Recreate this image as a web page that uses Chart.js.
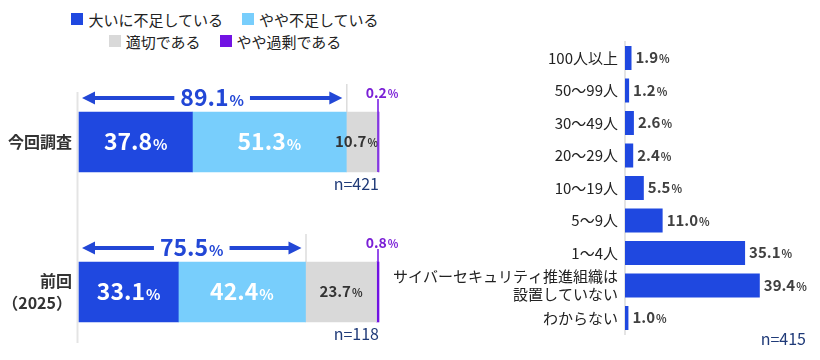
<!DOCTYPE html>
<html><head><meta charset="utf-8">
<script src="https://cdn.jsdelivr.net/npm/chart.js@4/dist/chart.umd.min.js"></script>
<style>
html,body{margin:0;padding:0;background:#fff;}
body{width:820px;height:360px;overflow:hidden;position:relative;font-family:'Noto Sans CJK JP','Noto Sans',sans-serif;}
#legend{position:absolute;left:0;top:8px;width:450px;}
#legend .row{display:flex;justify-content:center;align-items:center;height:22px;}
#legend .item{display:flex;align-items:center;margin:0 9.5px;font-size:15px;color:#222;white-space:nowrap;}
#legend .sq{width:12px;height:12px;margin-right:5px;display:inline-block;}
#w1{position:absolute;left:0;top:0;width:400px;height:360px;}
#w2{position:absolute;left:370px;top:0;width:450px;height:360px;}
</style></head>
<body>
<div id="legend"></div>
<div id="w1"><canvas id="c1"></canvas></div>
<div id="w2"><canvas id="c2"></canvas></div>
<script>
// ---------- data ----------
const seriesNames = ['大いに不足している','やや不足している','適切である','やや過剰である'];
const leftCategories = ['今回調査', ['前回','（2025）']];
const veryShort = [37.8, 33.1];
const someShort = [51.3, 42.4];
const adequate  = [10.7, 23.7];
const excess    = [0.2, 0.8];
const shortTotal = [89.1, 75.5];
const leftN = ['n=421', 'n=118'];

const rightCategories = ['100人以上','50～99人','30～49人','20～29人','10～19人','5～9人','1～4人',['サイバーセキュリティ推進組織は','設置していない'],'わからない'];
const rightValues = [1.9, 1.2, 2.6, 2.4, 5.5, 11.0, 35.1, 39.4, 1.0];
const rightN = 'n=415';

// ---------- styles ----------
const FAM = "'Noto Sans CJK JP','Noto Sans',sans-serif";
const colors = ['#1f48e0', '#78cefc', '#d9d9d9', '#7213e3'];
const arrowBlue = '#2247d6';
const purpleText = '#7a1fd6';
const navy = '#1f3a78';

// legend
(function(){
  const lg = document.getElementById('legend');
  const rows = [[0,1],[2,3]];
  rows.forEach(r=>{
    const row = document.createElement('div'); row.className='row';
    r.forEach(i=>{
      const it = document.createElement('div'); it.className='item';
      const sq = document.createElement('span'); sq.className='sq'; sq.style.background = colors[i];
      it.appendChild(sq); it.appendChild(document.createTextNode(seriesNames[i]));
      row.appendChild(it);
    });
    lg.appendChild(row);
  });
})();

function drawPct(ctx, num, x, y, nSize, pSize, color, align){
  ctx.save();
  ctx.fillStyle = color;
  ctx.textBaseline = 'alphabetic';
  ctx.textAlign = 'left';
  const nf = 'bold ' + nSize + 'px ' + FAM, pf = 'bold ' + pSize + 'px ' + FAM;
  ctx.font = nf; const w1 = ctx.measureText(num).width;
  ctx.font = pf; const w2 = ctx.measureText('%').width + 1;
  const tot = w1 + w2;
  const sx = align === 'left' ? x : align === 'right' ? x - tot : x - tot/2;
  const base = y + nSize * 0.36;
  ctx.font = nf; ctx.fillText(num, sx, base);
  ctx.font = pf; ctx.fillText('%', sx + w1 + 1, base);
  ctx.restore();
  return tot;
}
function pctWidth(ctx, num, nSize, pSize){
  ctx.save();
  ctx.font = 'bold ' + nSize + 'px ' + FAM; const w1 = ctx.measureText(num).width;
  ctx.font = 'bold ' + pSize + 'px ' + FAM; const w2 = ctx.measureText('%').width + 1;
  ctx.restore();
  return w1 + w2;
}

// ---------- left chart ----------
const leftDecor = {
  id: 'leftDecor',
  beforeDatasetsDraw(chart){
    const {ctx, scales:{x, y}} = chart;
    const x0 = x.getPixelForValue(0);
    const yFirst = y.getPixelForValue(0), yLast = y.getPixelForValue(leftCategories.length - 1);
    ctx.save();
    ctx.strokeStyle = '#e4e4e4'; ctx.lineWidth = 2;
    ctx.beginPath(); ctx.moveTo(x0 - 1.5, yFirst - 50); ctx.lineTo(x0 - 1.5, yLast + 51); ctx.stroke();
    leftCategories.forEach((c, i) => {
      const el = chart.getDatasetMeta(0).data[i];
      const top = el.y - el.height/2;
      const xs = x.getPixelForValue(shortTotal[i]);
      ctx.strokeStyle = '#dcdcdc'; ctx.lineWidth = 1.5;
      ctx.beginPath(); ctx.moveTo(xs + 0.5, top - 28); ctx.lineTo(xs + 0.5, top); ctx.stroke();
    });
    ctx.restore();
  },
  afterDatasetsDraw(chart){
    const {ctx, scales:{x, y}} = chart;
    const x0 = x.getPixelForValue(0), x100 = x.getPixelForValue(100);
    ctx.save();
    // inner labels
    const styles = [
      {c:'#ffffff', n:23, p:15},
      {c:'#ffffff', n:23, p:15},
      {c:'#333333', n:15, p:11}
    ];
    for (let d = 0; d < 3; d++){
      const meta = chart.getDatasetMeta(d);
      meta.data.forEach((el, i) => {
        const v = chart.data.datasets[d].data[i];
        const s = styles[d];
        const cx = (el.x + el.base)/2;
        const w = pctWidth(ctx, v.toFixed(1), s.n, s.p);
        if (cx + w/2 > x100) drawPct(ctx, v.toFixed(1), x100 - 1, el.y, s.n, s.p, s.c, 'right');
        else drawPct(ctx, v.toFixed(1), cx, el.y, s.n, s.p, s.c, 'center');
      });
    }
    leftCategories.forEach((c, i) => {
      const el = chart.getDatasetMeta(0).data[i];
      const top = el.y - el.height/2, bot = el.y + el.height/2;
      const xs = x.getPixelForValue(shortTotal[i]);
      // arrow
      const ay = top - 14, ax1 = x0 + 3, ax2 = xs - 4;
      const label = shortTotal[i].toFixed(1);
      const tw = pctWidth(ctx, label, 23, 15);
      const mid = (ax1 + ax2)/2;
      ctx.strokeStyle = arrowBlue; ctx.fillStyle = arrowBlue; ctx.lineWidth = 4;
      ctx.beginPath();
      ctx.moveTo(ax1 + 10, ay); ctx.lineTo(mid - tw/2 - 6, ay);
      ctx.moveTo(mid + tw/2 + 6, ay); ctx.lineTo(ax2 - 10, ay);
      ctx.stroke();
      ctx.beginPath(); ctx.moveTo(ax1, ay); ctx.lineTo(ax1 + 13, ay - 6.5); ctx.lineTo(ax1 + 13, ay + 6.5); ctx.closePath(); ctx.fill();
      ctx.beginPath(); ctx.moveTo(ax2, ay); ctx.lineTo(ax2 - 13, ay - 6.5); ctx.lineTo(ax2 - 13, ay + 6.5); ctx.closePath(); ctx.fill();
      drawPct(ctx, label, mid, ay, 23, 15, arrowBlue, 'center');
      // purple marker
      const px = x100 - 1;
      ctx.strokeStyle = colors[3]; ctx.lineWidth = 1.5;
      ctx.beginPath(); ctx.moveTo(px, top - 13); ctx.lineTo(px, bot); ctx.stroke();
      drawPct(ctx, excess[i].toFixed(1), x100 + 3, top - 19, 14, 11, purpleText, 'center');
      // n
      ctx.fillStyle = navy; ctx.font = '16px ' + FAM; ctx.textAlign = 'right'; ctx.textBaseline = 'middle';
      ctx.fillText(leftN[i], x100, bot + 12);
    });
    ctx.restore();
  }
};

new Chart(document.getElementById('c1'), {
  type: 'bar',
  data: {
    labels: leftCategories,
    datasets: [veryShort, someShort, adequate, excess].map((arr, i) => ({
      label: seriesNames[i], data: arr, backgroundColor: colors[i],
      borderWidth: 0, barThickness: 60, clip: false
    }))
  },
  options: {
    responsive: true, maintainAspectRatio: false, animation: false,
    indexAxis: 'y',
    layout: {padding: {left: 0, right: 21, top: 142, bottom: 68}},
    plugins: {legend: {display: false}, tooltip: {enabled: false}},
    scales: {
      x: {stacked: true, min: 0, max: 100, display: false},
      y: {
        stacked: true, offset: false,
        grid: {display: false, drawTicks: false}, border: {display: false},
        ticks: {font: {family: FAM, size: 16, weight: 'bold', lineHeight: 1.375}, color: '#333', padding: 7, autoSkip: false},
        afterFit(s){ s.width = 79; }
      }
    }
  },
  plugins: [leftDecor]
});

// ---------- right chart ----------
const rightDecor = {
  id: 'rightDecor',
  afterDatasetsDraw(chart){
    const {ctx} = chart;
    ctx.save();
    chart.getDatasetMeta(0).data.forEach((el, i) => {
      drawPct(ctx, rightValues[i].toFixed(1), el.x + 4, el.y, 15, 11, '#404040', 'left');
    });
    ctx.fillStyle = navy; ctx.font = '16px ' + FAM; ctx.textAlign = 'right'; ctx.textBaseline = 'middle';
    ctx.fillText(rightN, 436, 339);
    ctx.restore();
  }
};

new Chart(document.getElementById('c2'), {
  type: 'bar',
  data: {
    labels: rightCategories,
    datasets: [{data: rightValues, backgroundColor: colors[0], borderWidth: 0, barPercentage: 0.74, categoryPercentage: 1.0}]
  },
  options: {
    responsive: true, maintainAspectRatio: false, animation: false,
    indexAxis: 'y',
    layout: {padding: {left: 0, right: 0, top: 41.75, bottom: 25.75}},
    plugins: {legend: {display: false}, tooltip: {enabled: false}},
    scales: {
      x: {min: 0, max: 57, display: false},
      y: {
        grid: {display: false, drawTicks: false},
        border: {display: true, color: '#e4e4e4', width: 2},
        ticks: {font: {family: FAM, size: 15, lineHeight: 1.2}, color: '#222', padding: 7, autoSkip: false},
        afterFit(s){ s.width = 255; }
      }
    }
  },
  plugins: [rightDecor]
});
</script>
</body></html>
